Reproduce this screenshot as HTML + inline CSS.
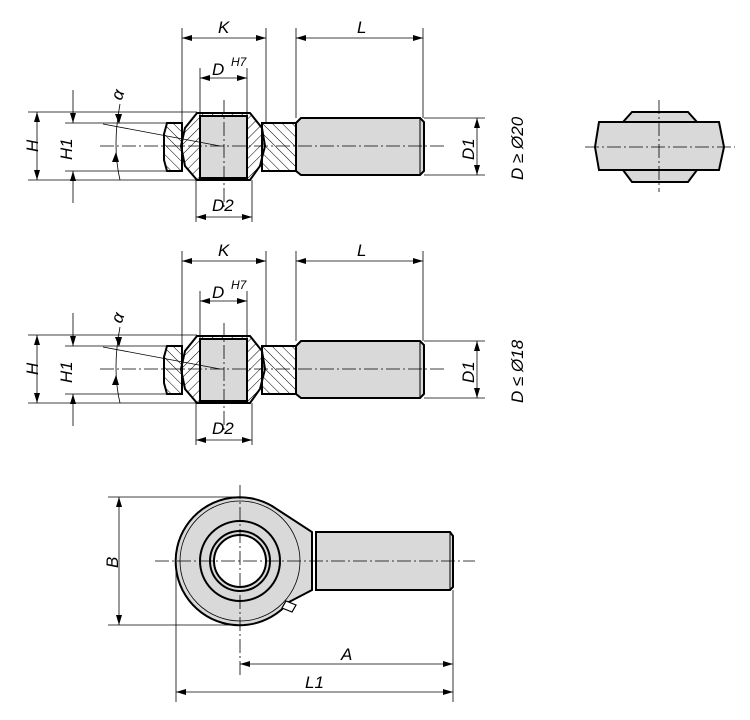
<!DOCTYPE html>
<html><head><style>body{margin:0;background:#fff}svg{display:block}text{font-family:"Liberation Sans",sans-serif;font-style:italic;font-size:17px;fill:#000}</style></head><body>
<svg width="750" height="720" viewBox="0 0 750 720" xmlns="http://www.w3.org/2000/svg">
<defs>
<pattern id="h" width="7" height="7" patternUnits="userSpaceOnUse" patternTransform="rotate(45)"><line x1="0" y1="0" x2="0" y2="7" stroke="#000" stroke-width="1"/></pattern>
<pattern id="h2" width="7" height="7" patternUnits="userSpaceOnUse" patternTransform="rotate(-45)"><line x1="0" y1="0" x2="0" y2="7" stroke="#000" stroke-width="1"/></pattern>
<marker id="a" viewBox="0 0 10 6" refX="10" refY="3" markerWidth="10" markerHeight="6" orient="auto-start-reverse" markerUnits="userSpaceOnUse"><path d="M0,0L10,3L0,6z" fill="#000"/></marker>
<g id="sec">
 <path d="M167,123H182V171H167L164,160V134Z" fill="url(#h2)" stroke="#000" stroke-width="2"/>
 <rect x="262" y="123" width="34" height="48" fill="url(#h2)" stroke="#000" stroke-width="2"/>
 <path d="M296,123L301,118H420L424,122V171L420,175H301L296,171Z" fill="#d9d9d9" stroke="#000" stroke-width="2"/>
 <line x1="420" y1="118" x2="420" y2="175" stroke="#000" stroke-width="1"/>
 <path d="M197,113H250L262,128L265,146L260,166L250,180H197L185,166L181,146L185,128Z" fill="url(#h)" stroke="#000" stroke-width="2"/>
 <rect x="200" y="116" width="47" height="62" fill="#d9d9d9" stroke="#000" stroke-width="2"/>
 <line x1="100" y1="146" x2="445" y2="146" stroke="#000" stroke-width="0.8" stroke-dasharray="14,3,2,3"/>
 <line x1="224" y1="100" x2="224" y2="210" stroke="#000" stroke-width="0.8" stroke-dasharray="14,3,2,3"/>
 <line x1="103" y1="124" x2="220" y2="146" stroke="#000" stroke-width="0.8"/>
 <g stroke="#000" stroke-width="0.8" fill="none">
  <line x1="182" y1="28" x2="182" y2="123"/><line x1="266" y1="28" x2="266" y2="123"/>
  <line x1="182" y1="38" x2="266" y2="38" marker-start="url(#a)" marker-end="url(#a)"/>
  <line x1="296" y1="28" x2="296" y2="118"/><line x1="423" y1="28" x2="423" y2="118"/>
  <line x1="296" y1="38" x2="423" y2="38" marker-start="url(#a)" marker-end="url(#a)"/>
  <line x1="200" y1="68" x2="200" y2="116"/><line x1="247" y1="68" x2="247" y2="116"/>
  <line x1="200" y1="78" x2="247" y2="78" marker-start="url(#a)" marker-end="url(#a)"/>
  <line x1="28" y1="112" x2="197" y2="112"/><line x1="28" y1="180" x2="197" y2="180"/>
  <line x1="37" y1="112" x2="37" y2="180" marker-start="url(#a)" marker-end="url(#a)"/>
  <line x1="65" y1="123" x2="167" y2="123"/><line x1="65" y1="171" x2="167" y2="171"/>
  <line x1="73" y1="90" x2="73" y2="123" marker-end="url(#a)"/>
  <line x1="73" y1="203" x2="73" y2="171" marker-end="url(#a)"/>
  <path d="M120,104 Q112,146 120,180" />
  <line x1="196" y1="180" x2="196" y2="222"/><line x1="252" y1="180" x2="252" y2="222"/>
  <line x1="196" y1="217" x2="252" y2="217" marker-start="url(#a)" marker-end="url(#a)"/>
  <line x1="424" y1="118" x2="485" y2="118"/><line x1="424" y1="175" x2="485" y2="175"/>
  <line x1="477" y1="118" x2="477" y2="175" marker-start="url(#a)" marker-end="url(#a)"/>
 </g>
 <path d="M115,114L119,124L122,114Z" fill="#000"/>
 <path d="M112,162L116,152L119,162Z" fill="#000"/>
 <text x="218" y="33">K</text>
 <text x="357" y="33">L</text>
 <text x="212" y="75">D</text><text x="231" y="66" style="font-size:12px">H7</text>
 <text x="212" y="211">D2</text>
 <text x="115" y="100" transform="rotate(-70 119 96)">α</text>
 <text transform="translate(38,152) rotate(-90)">H</text>
 <text transform="translate(72,160) rotate(-90)">H1</text>
 <text transform="translate(474,160) rotate(-90)">D1</text>
</g>
</defs>
<use href="#sec"/>
<text transform="translate(523,180) rotate(-90)">D ≥ Ø20</text>
<use href="#sec" transform="translate(0,223)"/>
<text transform="translate(523,403) rotate(-90)">D ≤ Ø18</text>
<path d="M623,122L632,112H688L697,122ZM623,170L632,182H688L697,170Z" fill="#d9d9d9" stroke="#000" stroke-width="2"/>
<path d="M599,122H719L724,147L719,170H599L595,147Z" fill="#d9d9d9" stroke="#000" stroke-width="2"/>
<line x1="585" y1="147" x2="735" y2="147" stroke="#000" stroke-width="0.8" stroke-dasharray="14,3,2,3"/>
<line x1="659" y1="100" x2="659" y2="192" stroke="#000" stroke-width="0.8" stroke-dasharray="14,3,2,3"/>
<path d="M272,506 L312,532 V590 L289,602 A64,64 0 1 1 272,506Z" fill="#d9d9d9" stroke="#000" stroke-width="2"/>
<circle cx="240" cy="561" r="60" fill="none" stroke="#000" stroke-width="0.8"/>
<circle cx="240" cy="561" r="40" fill="#d9d9d9" stroke="#000" stroke-width="2"/>
<circle cx="240" cy="561" r="30" fill="#d9d9d9" stroke="#000" stroke-width="2"/>
<circle cx="240" cy="561" r="26" fill="#fff" stroke="#000" stroke-width="2"/>
<path d="M282,608L286,601L296,605L292,612Z" fill="#fff" stroke="#000" stroke-width="1.2"/>
<path d="M316,532H450L453,536V587L450,590H316Z" fill="#d9d9d9" stroke="#000" stroke-width="2"/>
<line x1="450" y1="532" x2="450" y2="590" stroke="#000" stroke-width="1"/>
<line x1="155" y1="561" x2="475" y2="561" stroke="#000" stroke-width="0.8" stroke-dasharray="14,3,2,3"/>
<line x1="240" y1="485" x2="240" y2="675" stroke="#000" stroke-width="0.8" stroke-dasharray="14,3,2,3"/>
<g stroke="#000" stroke-width="0.8" fill="none">
 <line x1="108" y1="497" x2="240" y2="497"/><line x1="108" y1="625" x2="240" y2="625"/>
 <line x1="119" y1="497" x2="119" y2="625" marker-start="url(#a)" marker-end="url(#a)"/>
 <line x1="176" y1="565" x2="176" y2="702"/><line x1="453" y1="590" x2="453" y2="702"/>
 <line x1="240" y1="664" x2="453" y2="664" marker-start="url(#a)" marker-end="url(#a)"/>
 <line x1="176" y1="692" x2="453" y2="692" marker-start="url(#a)" marker-end="url(#a)"/>
</g>
<text x="341" y="660">A</text>
<text x="305" y="688">L1</text>
<text transform="translate(118,568) rotate(-90)">B</text>
</svg>
</body></html>
